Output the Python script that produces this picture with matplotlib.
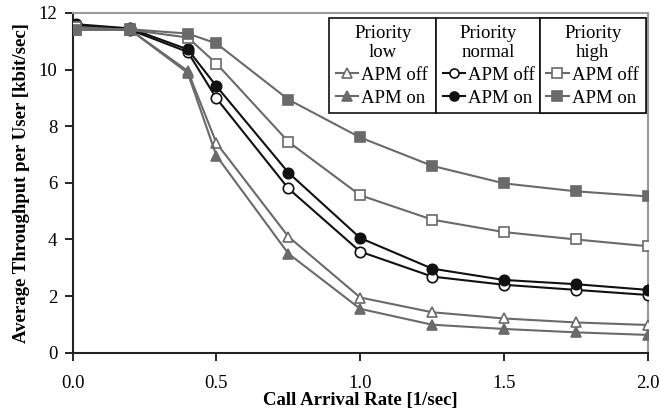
import matplotlib.pyplot as plt

plt.rcParams["font.family"] = ["Liberation Serif", "DejaVu Serif"]

rate = [0.01, 0.2, 0.4, 0.5, 0.75, 1.0, 1.25, 1.5, 1.75, 2.0]

low_off = [11.5, 11.4, 9.95, 7.4, 4.1, 1.95, 1.43, 1.21, 1.07, 0.98]
low_on = [11.4, 11.4, 9.88, 6.95, 3.5, 1.55, 0.99, 0.84, 0.72, 0.63]
normal_off = [11.55, 11.4, 10.62, 8.98, 5.8, 3.57, 2.69, 2.4, 2.22, 2.04]
normal_on = [11.6, 11.45, 10.71, 9.41, 6.36, 4.05, 2.97, 2.57, 2.42, 2.22]
high_off = [11.5, 11.4, 11.13, 10.21, 7.45, 5.56, 4.7, 4.26, 4.0, 3.76]
high_on = [11.4, 11.42, 11.27, 10.92, 8.94, 7.6, 6.6, 5.98, 5.7, 5.52]

gray = "#6a6a6a"
black = "#111111"

series = [
    ("low", "APM off", low_off, gray, "^", "white"),
    ("low", "APM on", low_on, gray, "^", gray),
    ("normal", "APM off", normal_off, black, "o", "white"),
    ("normal", "APM on", normal_on, black, "o", black),
    ("high", "APM off", high_off, gray, "s", "white"),
    ("high", "APM on", high_on, gray, "s", gray),
]

fig = plt.figure(figsize=(6.61, 4.15), dpi=100)
ax = fig.add_axes([0.110, 0.150, 0.870, 0.819])

handles = {}
for prio, label, vals, col, mk, face in series:
    ln, = ax.plot(rate, vals, color=col, lw=1.5, marker=mk, ms=7.5,
                  mfc=face, mec=col, mew=1.2, zorder=3)
    handles.setdefault(prio, []).append((ln, label))

ax.set_xlim(0, 2.0)
ax.set_ylim(0, 12)
ax.set_xticks([0.0, 0.5, 1.0, 1.5, 2.0])
ax.set_xticklabels(["0.0", "0.5", "1.0", "1.5", "2.0"])
ax.set_yticks(range(0, 13, 2))
ax.tick_params(labelsize=13.5, direction="out", length=6, width=1.2)
ax.tick_params(axis="x", pad=10)
ax.tick_params(axis="y", pad=5)

for side in ("left", "bottom"):
    ax.spines[side].set_linewidth(1.5)
    ax.spines[side].set_color("#222222")
for side in ("top", "right"):
    ax.spines[side].set_linewidth(1.5)
    ax.spines[side].set_color("#9a9a9a")

ax.set_xlabel("Call Arrival Rate [1/sec]", fontsize=13.5, fontweight="bold", labelpad=0)
ax.set_ylabel("Average Throughput per User [kbit/sec]", fontsize=13.5,
              fontweight="bold", labelpad=6)

# three side-by-side legend boxes, one per priority class
boxes = [("low", 0.446, 0.632), ("normal", 0.632, 0.812), ("high", 0.812, 0.997)]
for prio, x0, x1 in boxes:
    items = handles[prio]
    leg = ax.legend([h for h, _ in items], [t for _, t in items],
                    title=f"Priority\n{prio}", loc="upper left",
                    bbox_to_anchor=(x0, 0.5, x1 - x0, 0.485), mode="expand",
                    borderaxespad=0, fontsize=13.5, title_fontsize=13.5,
                    handlelength=1.2, handletextpad=0.15, borderpad=0.35,
                    labelspacing=0.3, fancybox=False, framealpha=1,
                    edgecolor="#111111")
    leg.get_title().set_multialignment("center")
    leg.get_frame().set_linewidth(1.2)
    for h in leg.legend_handles:
        h.set_markersize(6.5)
    ax.add_artist(leg)

fig.savefig("out.png", dpi=100)
